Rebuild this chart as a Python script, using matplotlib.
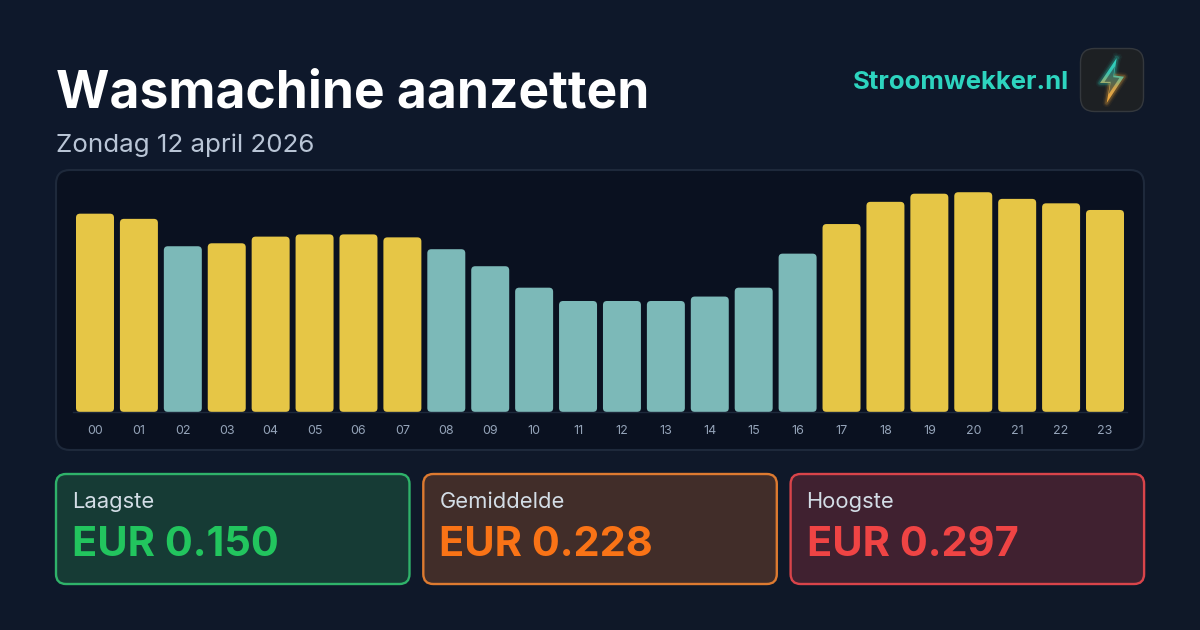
import matplotlib
matplotlib.use('Agg')
import matplotlib.pyplot as plt
from matplotlib.patches import FancyBboxPatch, Polygon
from matplotlib.colors import LinearSegmentedColormap
import numpy as np

plt.rcParams['font.family'] = ['Inter', 'DejaVu Sans']

hours = ['00', '01', '02', '03', '04', '05', '06', '07', '08', '09', '10', '11',
         '12', '13', '14', '15', '16', '17', '18', '19', '20', '21', '22', '23']
prices = [0.268, 0.261, 0.224, 0.228, 0.237, 0.240, 0.240, 0.236, 0.220, 0.197, 0.168, 0.150,
          0.150, 0.150, 0.156, 0.168, 0.214, 0.254, 0.284, 0.295, 0.297, 0.288, 0.282, 0.273]
cheap = [2, 8, 9, 10, 11, 12, 13, 14, 15, 16]

card_labels = ['Laagste', 'Gemiddelde', 'Hoogste']
card_values = ['EUR 0.150', 'EUR 0.228', 'EUR 0.297']
card_colors = ['#22c55e', '#f97316', '#ef4444']
card_fills = ['#163b35', '#412d29', '#402130']
card_edges = ['#2fb26a', '#dd7a30', '#d9444a']

BG = '#0f1729'
W, H = 1200, 630


def box(ax, x, y, w, h, r, fc, ec, lw):
    ax.add_patch(FancyBboxPatch((x, y), w, h, boxstyle=f'round,pad=0,rounding_size={r}',
                                fc=fc, ec=ec, lw=lw))


def draw_icon(ax):
    box(ax, 1080.5, 48.5, 63, 63, 14, '#1d2023', '#34383d', 1)
    bolt = np.array([(1116.7, 58), (1100, 83), (1110, 83), (1106.7, 103), (1124, 76.7), (1114, 75.5)])
    top = [0, 1, 2, 5, 0]
    low = [2, 3, 4, 5]
    for lw, alpha in [(6, 0.06), (4, 0.1), (2.5, 0.2)]:
        ax.plot(bolt[top, 0], bolt[top, 1], color='#2dd4bf', lw=lw, alpha=alpha)
        ax.plot(bolt[low, 0], bolt[low, 1], color='#f5a83a', lw=lw, alpha=alpha)
    cmap = LinearSegmentedColormap.from_list('bolt', ['#2fd6c4', '#35c4b4', '#d2a24c', '#f6a93b'])
    grad = np.linspace(0, 1, 64).reshape(-1, 1)
    img = ax.imshow(grad, cmap=cmap, extent=(1095, 1128, 104, 56), aspect='auto', zorder=3)
    img.set_clip_path(Polygon(bolt, closed=True, transform=ax.transData))
    # darker core, the bolt only glows along its edge
    mid = bolt.mean(axis=0)
    core = mid + (bolt - mid) * 0.62
    ax.add_patch(Polygon(core, closed=True, fc='#2a3a38', ec='none', alpha=0.6, zorder=4))
    ax.set_xlim(0, W)
    ax.set_ylim(H, 0)


fig = plt.figure(figsize=(W / 100, H / 100), dpi=100, facecolor=BG)
bg = fig.add_axes([0, 0, 1, 1])

# faint diagonal background gradient
bg_cmap = LinearSegmentedColormap.from_list('bg', ['#0e192c', '#101828'])
xx, yy = np.meshgrid(np.linspace(0, 1, 120), np.linspace(0, 1, 63))
bg.imshow((xx + yy) / 2, cmap=bg_cmap, extent=(0, W, H, 0), aspect='auto', zorder=0)
bg.set_xlim(0, W)
bg.set_ylim(H, 0)
bg.axis('off')

bg.text(55.5, 94, 'Wasmachine aanzetten', color='white', fontsize=37.1, fontweight='bold', va='center', ha='left')
bg.text(56.5, 145, 'Zondag 12 april 2026', color='#b9c5d6', fontsize=18.7, va='center', ha='left')
bg.text(1068.5, 82.5, 'Stroomwekker.nl', color='#2dd4bf', fontsize=18.5, fontweight='bold', va='center', ha='right')
draw_icon(bg)

# chart panel
box(bg, 56, 170, 1088, 280, 14, '#0a1120', '#1e293b', 1.5)

# cards
for i in range(3):
    x = 56 + i * 367.3
    box(bg, x, 474, 353.5, 110, 10, card_fills[i], card_edges[i], 1.7)
    bg.text(x + 16, 502, card_labels[i], color='#d3dde6', fontsize=15.8, va='center', ha='left')
    bg.text(x + 16, 545.5, card_values[i], color=card_colors[i], fontsize=29.9, fontweight='bold',
            va='center', ha='left')

# bars
ax = fig.add_axes([73.04 / W, 1 - 412 / H, (1126.96 - 73.04) / W, 230 / H])
ax.patch.set_alpha(0)
ax.set_xlim(-0.5, 23.5)
ax.set_ylim(0, 230 / 740)
colors = ['#7cb9b8' if i in cheap else '#e6c646' for i in range(len(hours))]
bars = ax.bar(range(len(hours)), prices, width=0.865, color=colors)
px_x = (1126.96 - 73.04) / 24
px_y = 740
for b in bars:
    ax.add_patch(FancyBboxPatch((b.get_x(), 0), b.get_width(), b.get_height(),
                                boxstyle=f'round,pad=0,rounding_size={4 / px_x}',
                                mutation_aspect=(px_x / px_y),
                                fc=b.get_facecolor(), ec='none'))
    b.set_visible(False)
for s in ['top', 'left', 'right']:
    ax.spines[s].set_visible(False)
ax.spines['bottom'].set_color('#1e293b')
ax.spines['bottom'].set_linewidth(1)
ax.set_yticks([])
ax.set_xticks(range(len(hours)))
ax.set_xticklabels(hours, color='#94a3b8', fontsize=9)
ax.tick_params(axis='x', length=0, pad=9.5)

fig.savefig('out.png', dpi=100, facecolor=BG)
